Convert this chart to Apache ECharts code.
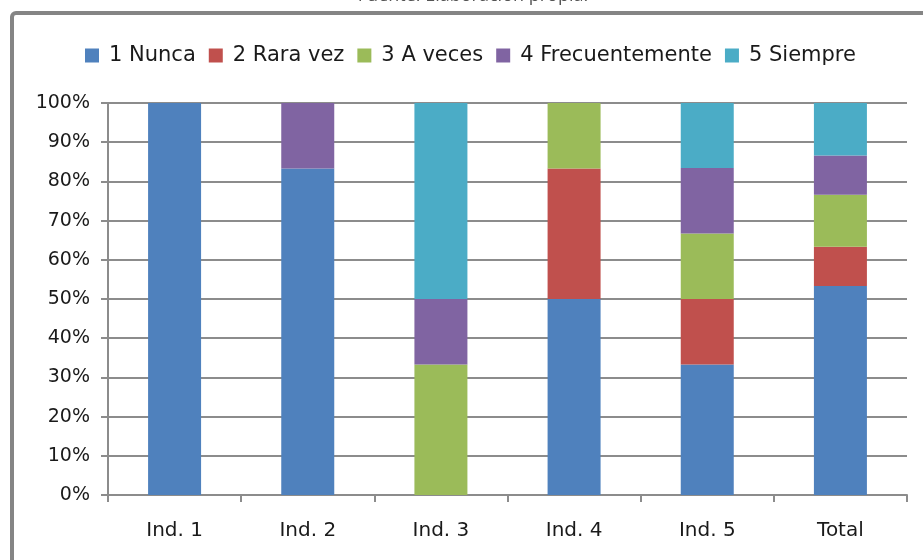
<!DOCTYPE html>
<html>
<head>
<meta charset="utf-8">
<script src="https://cdn.jsdelivr.net/npm/echarts@6/dist/echarts.min.js"></script>
<style>html,body{margin:0;padding:0;background:#fff;}#c{width:923px;height:560px;}</style>
</head>
<body>
<div id="c"></div>
<script>
const categories = ['Ind. 1', 'Ind. 2', 'Ind. 3', 'Ind. 4', 'Ind. 5', 'Total'];
const seriesNames = ['1 Nunca', '2 Rara vez', '3 A veces', '4 Frecuentemente', '5 Siempre'];
const nunca = [100, 83.3, 0, 50, 33.3, 53.3];
const raraVez = [0, 0, 0, 33.3, 16.7, 10];
const aVeces = [0, 0, 33.3, 16.7, 16.7, 13.3];
const frecuentemente = [0, 16.7, 16.7, 0, 16.7, 10];
const siempre = [0, 0, 50, 0, 16.6, 13.4];
const yTicks = [0, 10, 20, 30, 40, 50, 60, 70, 80, 90, 100];
const sourceText = 'Fuente: Elaboración propia.';

const colors = ['#4F81BD', '#C0504D', '#9BBB59', '#8064A2', '#4BACC6'];
const values = [nunca, raraVez, aVeces, frecuentemente, siempre];
const font = 'DejaVu Sans';

const chart = echarts.init(document.getElementById('c'));
chart.setOption({
  animation: false,
  color: colors,
  graphic: [
    { type: 'rect', shape: { x: 12, y: 13, width: 1000, height: 1000, r: 4 },
      style: { fill: 'none', stroke: '#858585', lineWidth: 4 } },
    { type: 'text', x: 473, y: -13, style: { text: sourceText, fill: '#555', font: '18px "Open Sans"', textAlign: 'center' } }
  ],
  legend: {
    top: 40, left: 80,
    itemWidth: 14, itemHeight: 14, itemGap: 13,
    icon: 'rect',
    textStyle: { fontFamily: font, fontSize: 21, color: '#1a1a1a', padding: [0, 0, 0, 5] },
    data: seriesNames
  },
  grid: { left: 108, right: 16, top: 103, bottom: 65 },
  xAxis: {
    type: 'category', data: categories,
    axisLine: { lineStyle: { color: '#8c8c8c', width: 2 } },
    axisTick: { show: true, alignWithLabel: false, length: 7, lineStyle: { color: '#8c8c8c', width: 2 } },
    axisLabel: { fontFamily: font, fontSize: 20, color: '#1a1a1a', margin: 26 }
  },
  yAxis: {
    type: 'value', min: 0, max: 100, interval: 10,
    axisLine: { show: true, lineStyle: { color: '#8c8c8c', width: 2 } },
    axisTick: { show: true, length: 7, lineStyle: { color: '#8c8c8c', width: 2 } },
    splitLine: { lineStyle: { color: '#8c8c8c', width: 2 } },
    axisLabel: { fontFamily: font, fontSize: 19, color: '#1a1a1a', margin: 18,
      formatter: v => yTicks.includes(v) ? v + '%' : '' }
  },
  series: seriesNames.map((n, i) => ({
    name: n, type: 'bar', stack: 'a', barWidth: 53,
    data: values[i], itemStyle: { color: colors[i] }
  }))
});
</script>
</body>
</html>
